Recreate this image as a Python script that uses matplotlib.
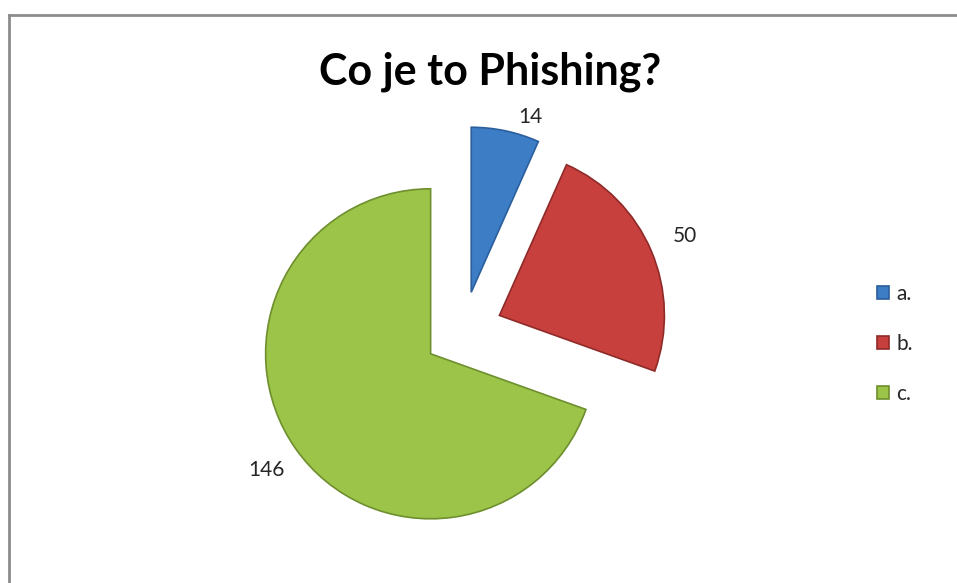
import numpy as np
import matplotlib.pyplot as plt
from matplotlib.lines import Line2D

# Data
categories = ["a.", "b.", "c."]
counts = [14, 50, 146]
colors = ["#3D7DC6", "#C8403D", "#9BC448"]
edge_colors = ["#2A5E9C", "#8E2A28", "#6E8F2E"]

TITLE = "Co je to Phishing?"

W, H = 957, 583
fig = plt.figure(figsize=(W / 100, H / 100), dpi=100)
fig.patch.set_facecolor("white")

# grey chart frame (right/bottom edges run off the picture)
fig.add_artist(Line2D([8.5 / W, 8.5 / W], [0, 1 - 14.5 / H],
                      transform=fig.transFigure, color="#8C8C8C", lw=2))
fig.add_artist(Line2D([8.5 / W, 1], [1 - 14.5 / H, 1 - 14.5 / H],
                      transform=fig.transFigure, color="#8C8C8C", lw=2))

# pie axes: centre at (463, 331) px, radius ~165 px
cx, cy, r_px = 463, 331, 165
half = 1.5 * r_px
ax = fig.add_axes([(cx - half) / W, (H - cy - half) / H, 2 * half / W, 2 * half / H])
ax.set_axis_off()

explode = [0.24] * len(counts)
wedges, _ = ax.pie(counts, colors=colors, explode=explode, startangle=90,
                   counterclock=False, radius=1.0,
                   wedgeprops=dict(linewidth=1.2))
for w, ec in zip(wedges, edge_colors):
    w.set_edgecolor(ec)

# value labels outside the slice ends
total = sum(counts)
start = 90.0
label_dist = [1.36, 1.46, 1.46]
label_shift = [5.5, 0.0, 0.0]  # degrees
for val, d, sh in zip(counts, label_dist, label_shift):
    sweep = 360.0 * val / total
    mid = np.deg2rad(start - sweep / 2 - sh)
    ax.text(d * np.cos(mid), d * np.sin(mid), str(val), ha="center", va="center",
            fontsize=15, family="Lato", color="#262626")
    start -= sweep

ax.set_xlim(-1.5, 1.5)
ax.set_ylim(-1.5, 1.5)
ax.set_aspect("equal")

fig.text(490 / W, 1 - 72 / H, TITLE, ha="center", va="center",
         fontsize=31, fontweight="bold", family="Lato", color="black")

leg = fig.legend(wedges, categories, loc="center left",
                 bbox_to_anchor=(858 / W, 1 - 344 / H), frameon=False,
                 handlelength=0.6, handleheight=0.6, handletextpad=0.35,
                 labelspacing=1.45, prop=dict(family="Lato", size=15))
for t in leg.get_texts():
    t.set_color("#262626")

fig.savefig("out.png", dpi=100)
